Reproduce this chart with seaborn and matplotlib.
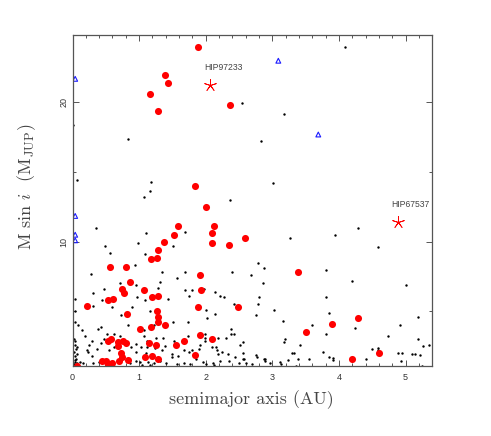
import numpy as np
import pandas as pd
import matplotlib
matplotlib.use("Agg")
import matplotlib.pyplot as plt
import seaborn as sns
from matplotlib.ticker import MultipleLocator

# ------------------------ DATA ------------------------

# small black dots: known planets (semimajor axis AU, M sin i in M_JUP)
black_a = [2.54, 0.0, 0.83, 2.83, 0.07, 1.18, 1.16, 1.07, 3.01, 2.37, 4.09, 3.17,
           0.35, 1.69, 1.10, 0.49, 1.51, 0.99, 0.56, 1.09, 0.94, 2.79, 2.87, 1.69, 1.34, 0.28, 2.39, 1.57,
           2.68, 2.86, 1.31, 0.72, 0.95, 1.29, 0.47, 1.79, 1.98, 1.69, 0.03, 0.31, 1.75, 2.14, 2.22, 2.27,
           2.80, 0.45, 0.97, 2.42, 0.30, 0.59, 0.90, 1.09, 1.44, 2.01, 2.78, 3.02, 0.03, 0.73, 1.16, 2.14,
           2.76, 2.02,
           0.04, 0.08, 0.43, 0.38, 0.14, 0.84, 1.07, 1.22, 1.51, 1.74, 2.38, 2.42, 0.18, 0.52, 0.62, 0.71,
           0.29, 0.48, 1.08, 1.12, 1.25, 1.36, 1.52, 1.74, 1.90, 1.99, 1.99, 1.99, 2.18, 2.30, 2.38, 2.52,
           2.56, 0.24, 0.21, 0.23, 0.29, 0.37, 0.43, 0.63, 0.55, 0.88, 0.95, 0.96, 1.03, 1.12, 1.24, 1.11,
           1.35, 1.39, 1.50, 1.59, 1.67, 1.75, 1.80, 1.91, 1.90, 2.09, 2.16, 2.17, 2.19, 2.24, 2.33, 2.44,
           2.56, 2.58, 2.75, 2.77, 2.87, 2.96,
           0.11, 0.15, 0.31, 0.40, 0.86, 0.95, 1.01, 1.05, 1.14, 1.17, 1.23, 1.31, 1.40, 1.49, 1.57, 1.67,
           1.76, 1.86, 1.96, 2.00, 2.11, 2.13, 2.21, 2.35, 2.50, 2.56, 2.61, 2.69, 2.89,
           0.02, 0.03, 0.04, 0.02, 0.05, 0.03, 0.06, 0.04, 0.05, 0.07, 0.02, 0.04, 0.06, 0.03, 0.05, 0.08,
           3.27, 3.94, 4.29, 4.58, 3.81, 4.19, 5.00, 3.81, 3.85, 5.19, 3.16, 3.59, 4.91, 4.24, 3.80, 4.73,
           3.19, 3.18, 5.19, 3.42, 5.26, 5.35, 4.49, 4.59, 4.59, 3.29, 3.33, 3.76, 3.85, 3.91, 3.91, 2.89,
           3.12, 3.13, 3.24, 3.38, 3.55, 4.41, 4.88, 4.95, 4.93, 5.09, 5.14, 5.22, 5.24, 3.35]
black_m = [19.99, 18.4, 17.4, 17.2, 14.4, 14.27, 13.64, 13.19, 14.2, 13.0, 23.99, 19.2,
           11.0, 10.7, 10.6, 9.7, 9.7, 9.9, 9.2, 9.1, 8.3, 8.5, 8.1, 7.8, 7.8, 7.7, 7.8, 7.4,
           7.6, 7.0, 7.1, 7.0, 6.9, 6.7, 6.6, 6.55, 6.6, 6.55, 5.9, 6.3, 6.1, 6.4, 6.1, 6.0,
           6.0, 5.8, 6.0, 5.5, 5.4, 5.3, 5.3, 5.8, 5.9, 5.1, 5.5, 5.1, 5.0, 4.7, 5.0, 4.8,
           4.7, 4.5,
           4.2, 4.0, 3.9, 3.7, 3.65, 4.0, 3.65, 4.0, 4.2, 4.2, 3.75, 3.4, 3.25, 3.4, 3.4, 3.2,
           2.9, 3.0, 3.2, 2.9, 3.1, 3.1, 2.9, 3.25, 3.35, 3.4, 3.1, 2.9, 3.05, 3.05, 3.4, 2.6,
           2.8, 2.55, 2.2, 2.05, 1.8, 2.3, 2.7, 2.45, 2.2, 2.45, 2.1, 2.65, 2.45, 2.4, 2.35, 2.0,
           2.25, 2.5, 1.9, 1.8, 2.25, 2.05, 2.25, 2.6, 2.3, 2.45, 2.45, 2.2, 1.9, 2.1, 1.95, 1.75,
           2.0, 1.6, 1.85, 1.7, 1.6, 1.3,
           1.37, 1.25, 1.25, 1.37, 1.26, 1.45, 1.33, 1.15, 1.33, 1.15, 1.3, 1.45, 1.26, 1.75, 1.22, 1.3,
           1.2, 1.55, 1.35, 1.2, 1.3, 1.15, 1.4, 1.4, 1.3, 1.6, 1.25, 1.2, 1.45,
           1.2, 1.5, 1.8, 2.1, 2.3, 2.6, 1.3, 1.1, 1.6, 1.9, 3.0, 2.9, 2.4, 1.35, 1.05, 1.15,
           10.3, 10.5, 11.0, 9.6, 8.0, 7.2, 6.9, 6.0, 4.85, 4.6, 4.3, 4.0, 4.0, 3.8, 3.4, 3.2,
           3.0, 2.8, 3.0, 2.55, 2.5, 2.6, 2.3, 2.35, 2.2, 2.0, 2.0, 2.05, 1.7, 1.65, 1.5, 1.6,
           1.35, 1.2, 1.5, 1.55, 1.55, 1.55, 2.0, 2.0, 1.45, 1.9, 1.9, 1.85, 1.1, 1.1]

# big red circles
red_a = [1.89, 1.39, 1.44, 1.16, 1.28, 2.37, 1.84,
         2.00, 1.59, 2.13, 1.53, 2.09, 1.37, 2.09, 2.59, 2.35, 1.28, 1.18, 1.27, 0.56, 0.80, 1.92,
         0.87, 0.74, 0.77, 1.07, 1.93, 1.29, 1.19, 0.61, 0.53, 0.21, 1.89, 2.49, 1.27, 0.82, 1.28,
         1.29, 1.39, 1.18, 1.01, 1.92, 0.58, 0.54, 0.76, 2.09, 1.68, 0.68, 0.80, 1.15, 0.69, 1.26,
         1.56, 0.73, 1.84, 1.19, 1.09, 0.74, 1.29, 0.83, 0.70, 0.45, 0.51, 0.60, 0.54, 0.58, 0.07,
         3.39, 4.29, 3.89, 3.51, 4.60, 4.19]
red_m = [23.99, 22.0, 21.4, 20.6, 19.4, 19.8, 14.0,
         12.47, 11.1, 11.1, 10.5, 10.6, 10.0, 9.9, 10.3, 9.76, 9.4, 8.78, 8.8, 8.2, 8.2, 7.59,
         7.1, 6.6, 6.3, 6.5, 6.55, 6.1, 6.0, 5.9, 5.8, 5.4, 5.3, 5.3, 5.0, 4.8, 4.6,
         4.2, 4.0, 3.9, 3.7, 3.3, 3.0, 2.9, 2.9, 3.0, 2.9, 2.8, 2.7, 2.7, 2.5, 2.6,
         2.6, 1.98, 1.86, 1.81, 1.72, 1.74, 1.6, 1.48, 1.4, 1.4, 1.45, 1.26, 1.14, 1.14, 1.09,
         7.8, 4.5, 4.1, 3.5, 2.0, 1.6]

# open blue triangles
tri_a = [0.04, 3.09, 3.69, 0.04, 0.04, 0.04]
tri_m = [21.7, 23.0, 17.7, 11.85, 10.5, 10.1]

# red asterisks with names
star_a = [2.07, 4.885]
star_m = [21.25, 11.39]
star_names = ["HIP97233", "HIP67537"]

# ------------------------ PLOT ------------------------

sns.set_style("ticks")
plt.rcParams["mathtext.fontset"] = "cm"

black_df = pd.DataFrame({"a": black_a, "m": black_m})
red_df = pd.DataFrame({"a": red_a, "m": red_m})
tri_df = pd.DataFrame({"a": tri_a, "m": tri_m})
star_df = pd.DataFrame({"a": star_a, "m": star_m})

fig = plt.figure(figsize=(4.91, 4.36), dpi=100)
ax = fig.add_axes([0.1477, 0.1599, 0.7325, 0.7605])

sns.scatterplot(data=black_df, x="a", y="m", ax=ax, color="black", s=3,
                linewidth=0, marker="o")
sns.scatterplot(data=red_df, x="a", y="m", ax=ax, color="#ff0000", s=26,
                linewidth=0, marker="o")
sns.scatterplot(data=tri_df, x="a", y="m", ax=ax, marker="^", s=12,
                facecolor="none", edgecolor="#1a1aff", linewidth=0.8)
sns.scatterplot(data=star_df, x="a", y="m", ax=ax, marker=(5, 2, 0), s=75,
                color="#ff0000", edgecolor="#ff0000", linewidth=0.6)

for xa, ym, name in zip(star_a, star_m, star_names):
    ax.annotate(name, (xa, ym), xytext=(-4.6, 12.5), textcoords="offset points",
                ha="left", va="center", fontsize=6.2, color="#444444",
                family="Liberation Sans")

ax.set_xlim(0, 5.4)
ax.set_ylim(1.05, 24.87)

ax.xaxis.set_major_locator(MultipleLocator(1))
ax.xaxis.set_minor_locator(MultipleLocator(0.2))
ax.yaxis.set_major_locator(MultipleLocator(10))
ax.yaxis.set_minor_locator(MultipleLocator(5))

for side in ["top", "right", "bottom", "left"]:
    ax.spines[side].set_visible(True)
    ax.spines[side].set_color("#555555")
    ax.spines[side].set_linewidth(0.9)

ax.tick_params(which="both", direction="in", top=True, right=True, color="#555555",
               width=0.7, labelsize=6.5, labelcolor="#333333")
ax.tick_params(which="major", length=4)
ax.tick_params(which="minor", length=2.2)
ax.tick_params(axis="x", pad=5)
ax.tick_params(axis="y", pad=3)
for lab in ax.get_xticklabels() + ax.get_yticklabels():
    lab.set_family("Liberation Sans")
for lab in ax.get_yticklabels():
    lab.set_rotation(90)
    lab.set_va("center")

ax.set_xlabel("semimajor axis (AU)", fontsize=13, family="cmr10", color="#444444")
ax.set_ylabel(r"M sin $i$  (M$_{\rm JUP}$)", fontsize=13, family="cmr10", color="#444444")
ax.xaxis.set_label_coords(0.498, -0.072)
ax.yaxis.set_label_coords(-0.095, 0.54)

fig.savefig("out.png", dpi=100, facecolor="white")
